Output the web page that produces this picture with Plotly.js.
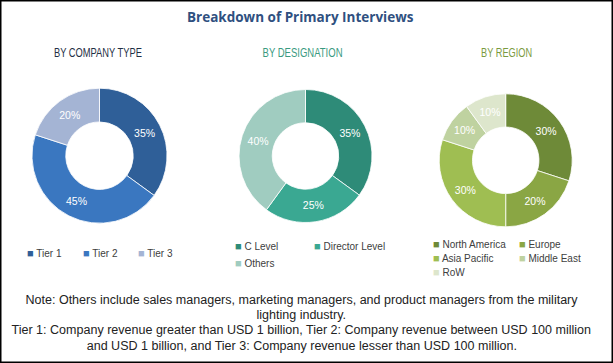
<!DOCTYPE html>
<html>
<head>
<meta charset="utf-8">
<script src="https://cdn.plot.ly/plotly-3.0.1.min.js"></script>
<style>html,body{margin:0;padding:0;background:#fff;}#chart{width:613px;height:363px;}</style>
</head>
<body>
<div id="chart"></div>
<script>
// ---- data ----
var companyLabels = ["Tier 1", "Tier 2", "Tier 3"];
var companyValues = [35, 45, 20];
var designationLabels = ["C Level", "Director Level", "Others"];
var designationValues = [35, 25, 40];
var regionLabels = ["North America", "Europe", "Asia Pacific", "Middle East", "RoW"];
var regionValues = [30, 20, 30, 10, 10];

var chartTitle = "Breakdown of Primary Interviews";
var subTitles = ["BY COMPANY TYPE", "BY DESIGNATION", "BY REGION"];
var noteLines = [
  "Note: Others include sales managers, marketing managers, and product managers from the military",
  "lighting industry.",
  "Tier 1: Company revenue greater than USD 1 billion, Tier 2: Company revenue between USD 100 million",
  "and USD 1 billion, and Tier 3: Company revenue lesser than USD 100 million."
];

// ---- styles ----
var companyColors = ["#2f5f98", "#3a77c0", "#a4b4d4"];
var designationColors = ["#2e8b78", "#3aa892", "#a0ccc0"];
var regionColors = ["#6e8a38", "#8aa644", "#9fbe52", "#bfd2a0", "#dde6cc"];
var subTitleColors = ["#1f2f45", "#3a9a80", "#7a9a40"];

var W = 613, H = 363;
function px(x){ return x / W; }
function py(y){ return 1 - y / H; }

var pieFont = {family: "Liberation Sans, Arial, sans-serif", size: 10.5, color: "#ffffff"};
function pie(labels, values, colors, cx, cy, r) {
  return {
    type: "pie", labels: labels, values: values, sort: false,
    direction: "clockwise", rotation: 0, hole: 0.5,
    marker: {colors: colors, line: {color: "#ffffff", width: 0.8}},
    textinfo: "percent", textposition: "inside", insidetextorientation: "horizontal",
    textfont: pieFont, showlegend: false, hoverinfo: "label+percent",
    domain: {x: [px(cx - r), px(cx + r)], y: [py(cy + r), py(cy - r)]}
  };
}

var data = [
  pie(companyLabels, companyValues, companyColors, 99.5, 155.7, 67.5),
  pie(designationLabels, designationValues, designationColors, 305.5, 156, 66.5),
  pie(regionLabels, regionValues, regionColors, 505.7, 160.3, 66.5)
];

var annotations = [];
var condense = [];   // per-annotation horizontal squeeze (narrow font look)
function addAnn(a, sx){ annotations.push(a); condense.push(sx || null); }

addAnn({xref: "paper", yref: "paper", x: px(300.7), y: py(17), xanchor: "center", yanchor: "middle",
  text: "<b>" + chartTitle + "</b>", showarrow: false,
  font: {family: "Open Sans, Liberation Sans, sans-serif", size: 13.5, color: "#2f5080"}});

var subX = [98, 302, 506];
var subW = [88, 80, 51];
subTitles.forEach(function(t, i){
  addAnn({xref: "paper", yref: "paper", x: px(subX[i]), y: py(53), xanchor: "center", yanchor: "middle",
    text: t, showarrow: false,
    font: {family: "Liberation Sans, Arial, sans-serif", size: 12.5, color: subTitleColors[i]}},
    {target: subW[i]});
});

// legends built from category arrays
function legend(labels, colors, colX, rowY, ncol) {
  labels.forEach(function(l, i){
    var c = i % ncol, rI = Math.floor(i / ncol);
    addAnn({xref: "paper", yref: "paper", x: px(colX[c]), y: py(rowY[rI]), xanchor: "left", yanchor: "middle",
      text: '<span style="color:' + colors[i] + ';font-size:11px">■</span> ' + l, showarrow: false,
      font: {family: "Liberation Sans, Arial, sans-serif", size: 10, color: "#404040"}});
  });
}
legend(companyLabels, companyColors, [25, 80.5, 136], [252.5], 3);
legend(designationLabels, designationColors, [233, 311.5], [245.7, 263.3], 2);
legend(regionLabels, regionColors, [430.7, 517], [244.3, 257.7, 271.7], 2);

var noteY = [299, 314, 329.3, 345];
noteLines.forEach(function(t, i){
  addAnn({xref: "paper", yref: "paper", x: px(301.5), y: py(noteY[i]), xanchor: "center", yanchor: "middle",
    text: t, showarrow: false,
    font: {family: "Liberation Sans, Arial, sans-serif", size: 13.5, color: "#222222"}},
    {group: "note"});
});

var layout = {
  width: W, height: H, margin: {l: 0, r: 0, t: 0, b: 0},
  paper_bgcolor: "#ffffff", plot_bgcolor: "#ffffff",
  showlegend: false, annotations: annotations,
  shapes: [{type: "rect", xref: "paper", yref: "paper", x0: 0, x1: 1, y0: 0, y1: 1,
    line: {color: "#000000", width: 3}}]
};

Plotly.newPlot("chart", data, layout, {displayModeBar: false, staticPlot: true}).then(function(gd){
  var texts = {};
  gd.querySelectorAll(".annotation").forEach(function(g){
    var idx = +g.getAttribute("data-index");
    texts[idx] = g.querySelector("text.annotation-text");
  });
  // note lines: one common squeeze so the widest line (line 3) spans ~580px
  var noteScale = null;
  condense.forEach(function(c, i){
    if (c && c.group === "note" && noteLines.indexOf(annotations[i].text) === 2) {
      noteScale = 580 / texts[i].getBBox().width;
    }
  });
  condense.forEach(function(c, i){
    if (!c || !texts[i]) return;
    var t = texts[i], bb = t.getBBox();
    var sx = c.target ? c.target / bb.width : noteScale;
    var cx = bb.x + bb.width / 2;
    t.setAttribute("transform", "translate(" + cx + ",0) scale(" + sx + ",1) translate(" + (-cx) + ",0)");
  });
});
</script>
</body>
</html>
